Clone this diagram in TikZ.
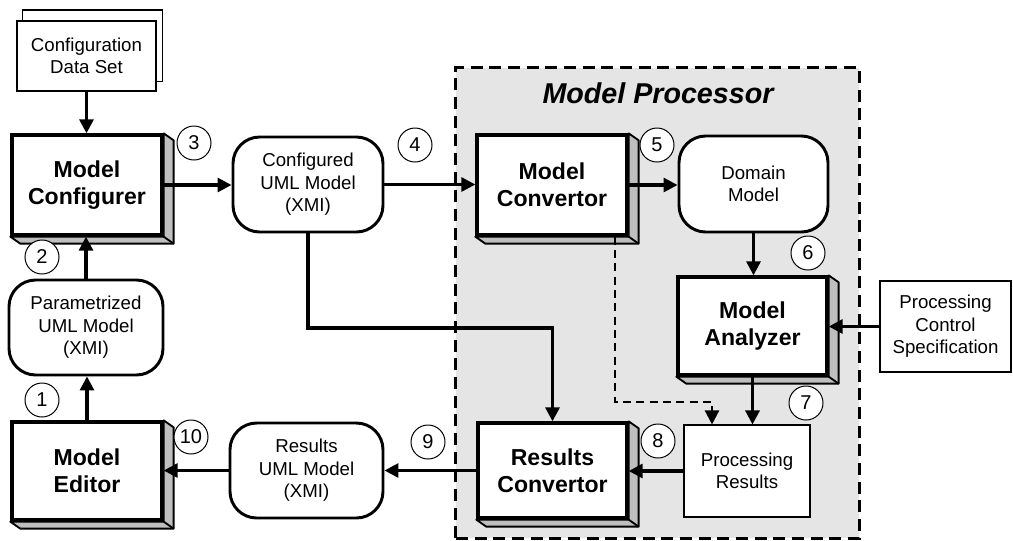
\documentclass[tikz,border=0pt]{standalone}
\usepackage{fontspec}
\setmainfont{Liberation Sans}
\usetikzlibrary{arrows.meta}
\pgfdeclarelayer{bg}
\pgfdeclarelayer{shadelayer}
\pgfsetlayers{bg,shadelayer,main}
\tikzset{
  box3d/.style={draw, line width=2.5pt, fill=white, inner sep=0pt, align=center,
    font=\fontsize{17.3}{20.5}\selectfont\bfseries},
  roundbox/.style={draw, line width=2.2pt, fill=white, rounded corners=20pt, inner sep=0pt, align=center,
    font=\fontsize{14}{16.8}\selectfont},
  plainbox/.style={draw, line width=0.8pt, fill=white, inner sep=0pt, align=center,
    font=\fontsize{14}{16.8}\selectfont},
  numcirc/.style={draw, circle, line width=0.75pt, fill=white, minimum size=25.5pt, inner sep=0pt,
    font=\fontsize{15}{15}\selectfont},
  shadeface/.style={fill=black!25, draw=black, line width=1.4pt, line join=round},
  conn/.style={line width=2.3pt, -{Triangle[length=10.5pt,width=10.5pt]}},
}
\newcommand\extrude[1]{%
  \begin{pgfonlayer}{shadelayer}
  \filldraw[shadeface] (#1.north east) -- ++(10,7) -- ([shift={(10,7)}]#1.south east)
     -- ([shift={(10,7)}]#1.south west) -- (#1.south west) -- (#1.south east) -- cycle;
  \draw[shadeface] (#1.south east) -- ++(10,7);
  \end{pgfonlayer}}
\begin{document}
\begin{tikzpicture}[x=0.75pt,y=-0.75pt]
\useasboundingbox (0,0) rectangle (1013,540);

% Model Processor region
\node[draw=none, inner sep=0pt, minimum width=302.25pt, minimum height=352.5pt] (proc) at (657.5,303) {};
\begin{pgfonlayer}{bg}
\fill[black!10] (proc.south west) rectangle (proc.north east);
\end{pgfonlayer}
\draw[line width=2.1pt, dash pattern=on 9pt off 5pt] (proc.south west) rectangle (proc.north east);
\node[font=\fontsize{21.5}{21.5}\selectfont\bfseries\itshape] (ptitle) at (658,93) {Model Processor};

% Configuration data set (stacked)
\node[plainbox, minimum width=104.25pt, minimum height=52.5pt] (cds) at (86.5,56) {Configuration\\Data Set};
\begin{pgfonlayer}{shadelayer}
\filldraw[fill=white, draw=black, line width=0.8pt] ([shift={(6,-10.5)}]cds.south west) rectangle ([shift={(6,-10.5)}]cds.north east);
\end{pgfonlayer}

% 3D boxes
\node[box3d, minimum width=112.5pt, minimum height=75pt] (mconf) at (87,185) {Model\\Configurer};
\node[box3d, minimum width=112.5pt, minimum height=73.5pt] (medit) at (87,471) {Model\\Editor};
\node[box3d, minimum width=112.5pt, minimum height=75pt] (mconv) at (552,185) {Model\\Convertor};
\node[box3d, minimum width=111.75pt, minimum height=73.5pt] (mana) at (752.5,326) {Model\\Analyzer};
\node[box3d, minimum width=111.75pt, minimum height=71.25pt] (rconv) at (552.5,470.5) {Results\\Convertor};
\extrude{mconf}
\extrude{medit}
\extrude{mconv}
\extrude{mana}
\extrude{rconv}

% rounded boxes
\node[roundbox, minimum width=115.5pt, minimum height=71.25pt] (param) at (86,327.5) {Parametrized\\UML Model\\(XMI)};
\node[roundbox, minimum width=112.5pt, minimum height=71.25pt] (cuml) at (308,184.5) {Configured\\UML Model\\(XMI)};
\node[roundbox, minimum width=114.75pt, minimum height=71.25pt] (ruml) at (306.5,470.5) {Results\\UML Model\\(XMI)};
\node[roundbox, minimum width=111.75pt, minimum height=72pt] (dom) at (753.5,184) {Domain\\Model};

% plain boxes
\node[plainbox, minimum width=98.25pt, minimum height=68.25pt] (pcs) at (945.5,326.5) {Processing\\Control\\Specification};
\node[plainbox, minimum width=94.5pt, minimum height=69pt] (pres) at (747,471) {Processing\\Results};

% connectors
\draw[conn] (cds.south) -- (cds.south |- mconf.north);
\draw[conn] (param.north) -- (param.north |- mconf.south);
\draw[conn] (medit.north) -- (medit.north |- param.south);
\draw[conn] (mconf.east) -- (mconf.east -| cuml.west);
\draw[conn] (cuml.east) -- (cuml.east -| mconv.west);
\draw[conn] (mconv.east) -- (mconv.east -| dom.west);
\draw[conn] (dom.south) -- (dom.south |- mana.north);
\draw[conn] (pcs.west) -- (pcs.west -| mana.east);
\draw[conn] (mana.south) -- (mana.south |- pres.north);
\draw[conn] (pres.west) -- (pres.west -| rconv.east);
\draw[conn] (rconv.west) -- (rconv.west -| ruml.east);
\draw[conn] (ruml.west) -- (ruml.west -| medit.east);
\coordinate (j1) at (308,328);
\draw[conn] (cuml.south) -- (j1) -| (rconv.north);
\coordinate (d1) at (615,402);
\coordinate (d2) at (712,402);
\draw[conn, line width=1.7pt, dash pattern=on 6pt off 4pt] (d1 |- mconv.south) -- (d1) -- (d2) -- (d2 |- pres.north);

% step numbers
\node[numcirc] (n1) at (42,400) {1};
\node[numcirc] (n2) at (42,257) {2};
\node[numcirc] (n3) at (194,143) {3};
\node[numcirc] (n4) at (415,145) {4};
\node[numcirc] (n5) at (657,145) {5};
\node[numcirc] (n6) at (808,253) {6};
\node[numcirc] (n7) at (806,403) {7};
\node[numcirc] (n8) at (658,441) {8};
\node[numcirc] (n9) at (428,442) {9};
\node[numcirc] (n10) at (191,437) {10};
\end{tikzpicture}
\end{document}
